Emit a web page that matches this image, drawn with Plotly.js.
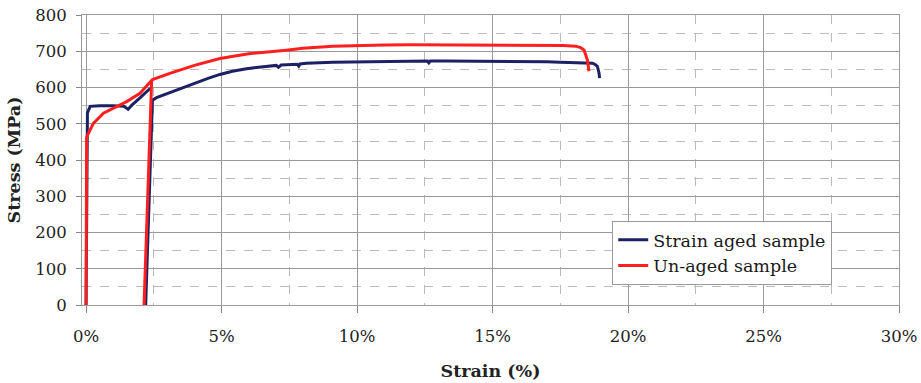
<!DOCTYPE html>
<html>
<head>
<meta charset="utf-8">
<script src="https://cdn.plot.ly/plotly-3.0.1.min.js"></script>
<style>
  html, body { margin: 0; padding: 0; background: #fff; }
  #chart { width: 921px; height: 383px; }
</style>
</head>
<body>
<div id="chart"></div>
<script>
// Tensile curves: strain in %, stress in MPa. null breaks a line between load segments.
const agedName = "Strain aged sample";
const agedStrain = [0, 0.02, 0.05, 0.15, 0.5, 1.0, 1.4, 1.55, 1.7, 2.0, 2.2, 2.37,
  null,
  2.2, 2.32, 2.45, 2.6, 3.09, 3.5, 3.95, 4.5, 4.94, 5.4, 5.92, 6.5, 7.02, 7.1, 7.2, 7.8, 7.85, 7.9, 8.13, 9.11,
  10.0, 11.0, 12.0, 12.6, 12.65, 12.7, 13.3, 14.0, 15.0, 16.0, 17.0, 17.5, 18.0, 18.32, 18.55, 18.69, 18.8, 18.87, 18.93, 18.95];
const agedStress = [0, 470, 530, 548, 550, 550, 548, 540, 552, 572, 585, 598,
  null,
  0, 300, 565, 572, 586, 598, 611, 625, 636, 645, 652, 657, 661, 656, 662, 664, 659, 665, 667, 670,
  671, 672, 673, 673, 668, 673, 673, 673, 673, 672, 671, 670, 669, 668, 667, 667, 663, 658, 640, 626];

const unagedName = "Un-aged sample";
const unagedStrain = [0, 0.02, 0.27, 0.64, 1.07, 1.5, 1.99, 2.3, 2.45, 3.09, 4.0, 4.94, 6.0, 7.39, 8.0, 9.11,
  10.0, 11.0, 12.0, 13.28, 15.0, 16.0, 17.0, 17.6, 18.07, 18.25, 18.38, 18.5, 18.56,
  null,
  2.14, 2.28, 2.42];
const unagedStress = [0, 463, 501, 529, 545, 561, 584, 610, 622, 639, 661, 680, 693, 703, 708, 714,
  716, 717, 718, 718, 717, 717, 716, 716, 714, 710, 703, 676, 645,
  null,
  0, 300, 620];

const xTicks = [0, 5, 10, 15, 20, 25, 30];
const yTicks = [0, 100, 200, 300, 400, 500, 600, 700, 800];

const serif = "DejaVu Serif, Liberation Serif, serif";

const traces = [
  {
    x: agedStrain, y: agedStress, name: agedName, type: "scatter", mode: "lines",
    line: { color: "#1c2163", width: 3 }, connectgaps: false
  },
  {
    x: unagedStrain, y: unagedStress, name: unagedName, type: "scatter", mode: "lines",
    line: { color: "#ff1f1f", width: 3 }, connectgaps: false
  }
];

const layout = {
  width: 921, height: 383,
  margin: { l: 82, r: 22, t: 15, b: 78 },
  paper_bgcolor: "#fff", plot_bgcolor: "#fff",
  font: { family: serif, size: 16.5, color: "#222" },
  showlegend: true,
  legend: {
    x: 0.649, y: 0.29, xanchor: "left", yanchor: "top",
    bgcolor: "#fff", bordercolor: "#999", borderwidth: 1,
    font: { family: serif, size: 17.5, color: "#1a1a1a" },
    tracegroupgap: 0
  },
  xaxis: {
    range: [-0.15, 30],
    tickvals: xTicks, ticktext: xTicks.map(v => v + "%"),
    ticks: "outside", ticklen: 7, tickcolor: "#888",
    ticklabelstandoff: 9,
    showline: true, linecolor: "#999", linewidth: 1, mirror: true,
    showgrid: true, gridcolor: "#999", gridwidth: 1,
    zeroline: false,
    minor: { dtick: 2.5, tick0: 0, showgrid: true, gridcolor: "#bbb", griddash: "dash", gridwidth: 1, ticks: "" },
    title: { text: "<b>Strain (%)</b>", font: { family: serif, size: 17.5, color: "#222" }, standoff: 19 }
  },
  yaxis: {
    range: [0, 800],
    tickvals: yTicks,
    ticks: "outside", ticklen: 5, tickcolor: "#888",
    ticklabelstandoff: 6,
    showline: true, linecolor: "#999", linewidth: 1, mirror: true,
    showgrid: true, gridcolor: "#999", gridwidth: 1,
    zeroline: false,
    minor: { dtick: 50, tick0: 0, showgrid: true, gridcolor: "#bbb", griddash: "dash", gridwidth: 1, ticks: "" },
    title: { text: "<b>Stress (MPa)</b>", font: { family: serif, size: 17.5, color: "#222" }, standoff: 10 }
  }
};

Plotly.newPlot("chart", traces, layout, { staticPlot: true, displayModeBar: false });
</script>
</body>
</html>
